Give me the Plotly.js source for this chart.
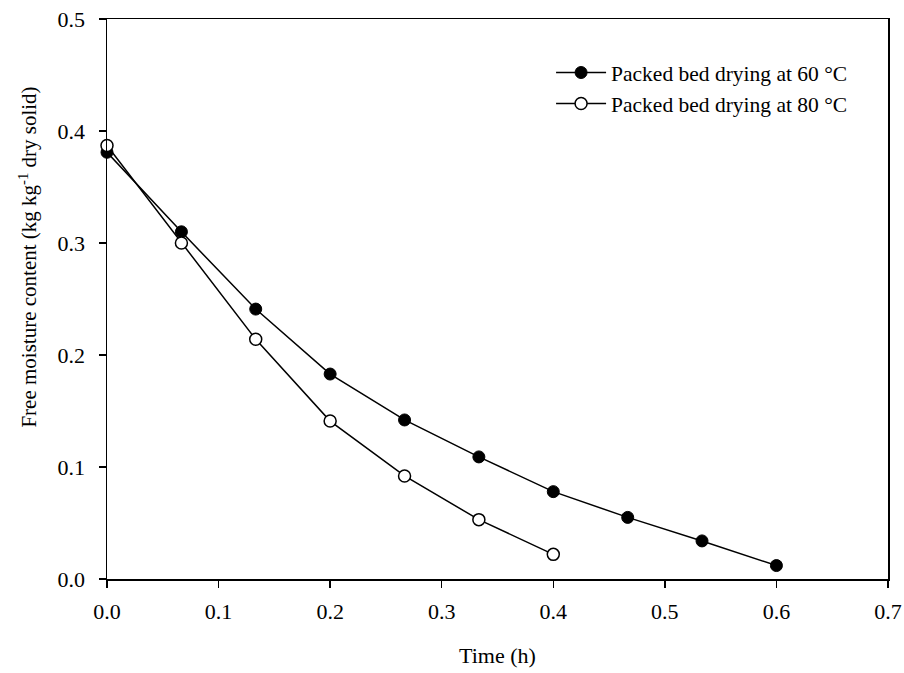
<!DOCTYPE html>
<html>
<head>
<meta charset="utf-8">
<script src="https://cdn.plot.ly/plotly-3.0.1.min.js"></script>
<style>html,body{margin:0;padding:0;background:#fff;}#chart{width:904px;height:673px;}</style>
</head>
<body>
<div id="chart"></div>
<script>
const timeH = [0, 0.0667, 0.1333, 0.2, 0.2667, 0.3333, 0.4, 0.4667, 0.5333, 0.6];
const moisture60 = [0.381, 0.310, 0.241, 0.183, 0.142, 0.109, 0.078, 0.055, 0.034, 0.012];
const moisture80 = [0.387, 0.300, 0.214, 0.141, 0.092, 0.053, 0.022];
const seriesNames = ["Packed bed drying at 60 °C", "Packed bed drying at 80 °C"];
const xTicks = [0, 0.1, 0.2, 0.3, 0.4, 0.5, 0.6, 0.7];
const yTicks = [0, 0.1, 0.2, 0.3, 0.4, 0.5];
const xTitle = "Time (h)";
const yTitle = "Free moisture content (kg kg<sup>-1</sup> dry solid)";

const fontFam = "Liberation Serif, Times New Roman, serif";

const traces = [
  {
    x: timeH, y: moisture60, name: seriesNames[0], type: "scatter", mode: "lines+markers",
    line: {color: "#000", width: 1.5},
    marker: {symbol: "circle", size: 12, color: "#000", line: {color: "#000", width: 1}},
    cliponaxis: false
  },
  {
    x: timeH.slice(0, moisture80.length), y: moisture80, name: seriesNames[1], type: "scatter", mode: "lines+markers",
    line: {color: "#000", width: 1.5},
    marker: {symbol: "circle", size: 12, color: "#fff", line: {color: "#000", width: 1.5}},
    cliponaxis: false
  }
];

const layout = {
  width: 904, height: 673,
  margin: {l: 106.5, r: 16, t: 19, b: 94.3, pad: 0},
  paper_bgcolor: "#fff", plot_bgcolor: "#fff",
  font: {family: fontFam, color: "#000", size: 22},
  showlegend: true,
  legend: {
    x: 0.5686, y: 0.941, xanchor: "left", yanchor: "top",
    font: {family: fontFam, size: 21.5, color: "#000"},
    itemwidth: 50,
    bgcolor: "rgba(0,0,0,0)", borderwidth: 0, tracegroupgap: 0
  },
  xaxis: {
    range: [0, 0.7], tickvals: xTicks, ticktext: xTicks.map(v => v.toFixed(1)),
    showgrid: false, zeroline: false, showline: true, linecolor: "#000", linewidth: 1.5,
    mirror: true, ticks: "outside", ticklen: 7, tickwidth: 1.5, tickcolor: "#000",
    ticklabelstandoff: 5,
    tickfont: {family: fontFam, size: 22}, automargin: false,
    title: {text: xTitle, font: {family: fontFam, size: 22}, standoff: 24}
  },
  yaxis: {
    range: [0, 0.5], tickvals: yTicks, ticktext: yTicks.map(v => v.toFixed(1)),
    showgrid: false, zeroline: false, showline: true, linecolor: "#000", linewidth: 1.5,
    mirror: true, ticks: "outside", ticklen: 7, tickwidth: 1.5, tickcolor: "#000",
    ticklabelstandoff: 9,
    tickfont: {family: fontFam, size: 22}, automargin: false
  },
  annotations: [
    {
      text: yTitle, textangle: -90, showarrow: false,
      xref: "paper", yref: "paper", x: -0.1017, y: 0.575,
      xanchor: "center", yanchor: "middle",
      font: {family: fontFam, size: 21, color: "#000"}
    }
  ]
};

Plotly.newPlot("chart", traces, layout, {displayModeBar: false, staticPlot: true});
</script>
</body>
</html>
